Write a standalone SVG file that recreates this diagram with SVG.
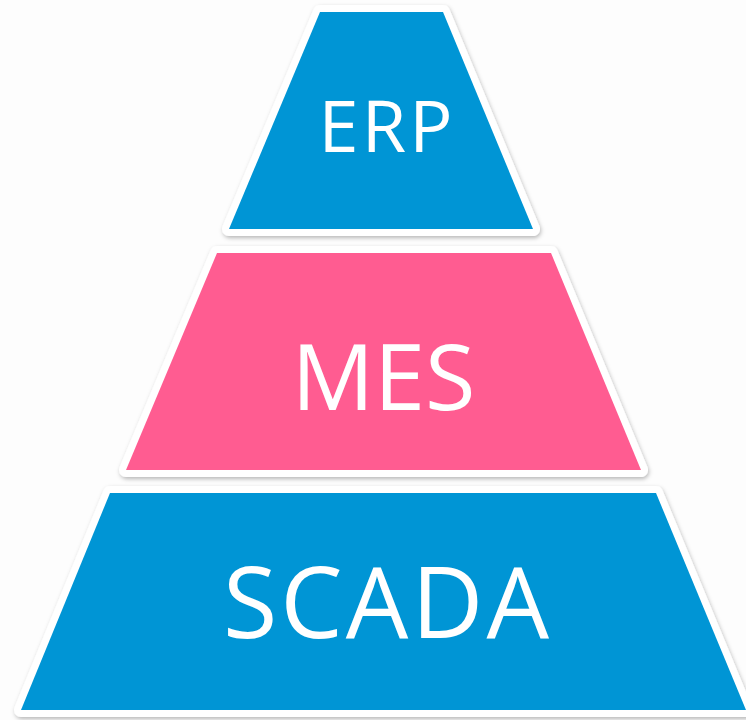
<svg xmlns="http://www.w3.org/2000/svg" width="746" height="720" viewBox="0 0 746 720">
  <defs>
    <filter id="shadow" x="-10%" y="-10%" width="120%" height="120%">
      <feDropShadow dx="1" dy="2" stdDeviation="2" flood-color="#000" flood-opacity="0.28"/>
    </filter>
  </defs>
  <style>
    .tier { stroke: #ffffff; stroke-width: 14; stroke-linejoin: round; paint-order: stroke; filter: url(#shadow); }
    .blue { fill: #0095d5; }
    .pink { fill: #ff5b91; }
    .label { fill: #ffffff; font-family: "Open Sans", "Noto Sans", sans-serif; text-anchor: middle; }
  </style>
  <rect x="0" y="0" width="746" height="720" fill="#fdfdfd"/>
  <g id="erp">
    <polygon class="tier blue" points="320,12 443,12 533,229 229,229"/>
    <text class="label" x="385.5" y="152" font-size="72" textLength="134" lengthAdjust="spacing">ERP</text>
  </g>
  <g id="mes">
    <polygon class="tier pink" points="217,253 551,253 641,470 126,470"/>
    <text class="label" x="383.5" y="410" font-size="92" textLength="184" lengthAdjust="spacing">MES</text>
  </g>
  <g id="scada">
    <polygon class="tier blue" points="110,493 656,493 746,710 21,710"/>
    <text class="label" x="386" y="638" font-size="99" textLength="326" lengthAdjust="spacing">SCADA</text>
  </g>
  <g id="connectors"/>
</svg>
